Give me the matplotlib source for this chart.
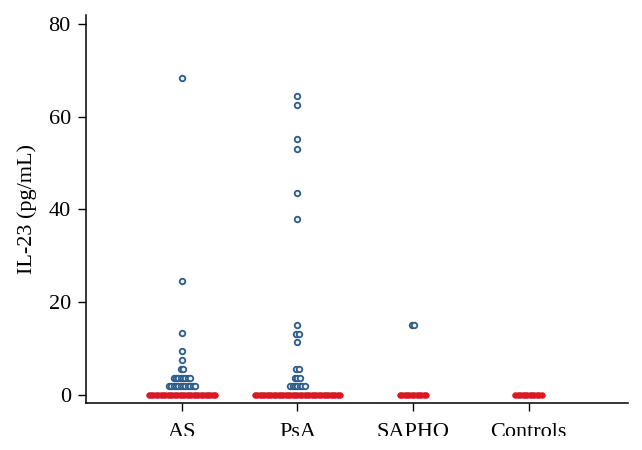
import numpy as np
import matplotlib.pyplot as plt
from matplotlib.patches import Rectangle

plt.rcParams['font.family'] = ['Liberation Serif', 'DejaVu Serif']

# data: (value, count) pairs per group
groups = ["AS", "PsA", "SAPHO", "Controls"]
as_vals = [(68.3, 1), (24.7, 1), (13.5, 1), (9.5, 1), (7.7, 1), (5.6, 2), (3.7, 8), (1.9, 12), (0.0, 29)]
psa_vals = [(64.5, 1), (62.6, 1), (55.1, 1), (53.1, 1), (43.6, 1), (38.0, 1), (15.1, 1),
            (13.3, 2), (11.4, 1), (5.6, 2), (3.7, 3), (1.9, 7), (0.0, 37)]
sapho_vals = [(15.2, 2), (0.0, 12)]
ctrl_vals = [(0.0, 12)]
y_ticks = [0, 20, 40, 60, 80]

step = 0.0205  # horizontal spacing between stacked points

fig = plt.figure(figsize=(6.42, 4.5), dpi=100)
ax = fig.add_axes([0.134, 0.104, 0.844, 0.863])

for i, vals in enumerate([as_vals, psa_vals, sapho_vals, ctrl_vals]):
    for v, n in vals:
        xs = i + 1 + (np.arange(n) - (n - 1) / 2) * step
        ys = np.full(n, v)
        if v == 0:
            ax.scatter(xs, ys, s=16, facecolor='#e8141c', edgecolor='#c8202e', linewidth=0.6, zorder=3)
        else:
            ax.scatter(xs, ys, s=16, facecolor='#eef2f6', edgecolor='#2d5d88', linewidth=1.3, zorder=3)

ax.set_xlim(0.17, 4.86)
ax.set_ylim(-1.7, 81.9)
ax.set_xticks([1, 2, 3, 4])
ax.set_xticklabels(groups)
ax.set_yticks(y_ticks)
ax.tick_params(axis='both', labelsize=16, length=6, width=1, direction='out')
ax.tick_params(axis='y', pad=5)
ax.tick_params(axis='x', pad=8)
ax.set_ylabel('IL-23 (pg/mL)', fontsize=16, labelpad=8)
for s in ['top', 'right']:
    ax.spines[s].set_visible(False)
for s in ['left', 'bottom']:
    ax.spines[s].set_linewidth(1.1)

# the reference is cut off just below the category labels
fig.patches.append(Rectangle((0, 0), 1, 0.031, transform=fig.transFigure,
                             facecolor='white', edgecolor='none', zorder=10))

fig.savefig('out.png', dpi=100)
